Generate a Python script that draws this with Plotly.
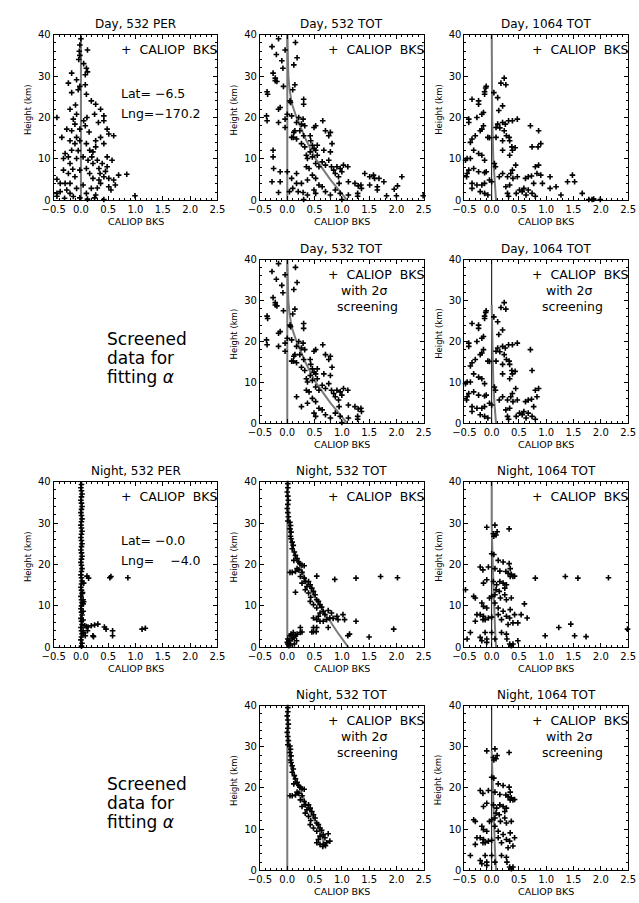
import plotly.graph_objects as go

W, H = 639, 903
FONT = "DejaVu Sans"
GRAY = "#7a7a7a"

# ---------------- data ----------------
# (CALIOP BKS, height km) pairs per panel
day532_per = [(0.0,39),(-0.02,37.5),(-0.03,36),(-0.02,35),(-0.04,34),(0.12,36.3),(0.1,31.9),(0.12,31),(0.08,30.3),
 (-0.17,30.7),(-0.23,28.3),(-0.08,29.1),(-0.17,26),(-0.02,27.5),(-0.05,26.7),(0.08,27.9),(0.1,25.6),(0.19,24),
 (0.27,23.2),(-0.44,20),(-0.35,15.2),(-0.2,22),(-0.14,19.6),(-0.08,20.8),(0.05,19.2),(0.11,20),(0.08,18),(0.25,20.8),
 (0.36,22),(0.42,20.4),(0.32,18.8),(0.42,19.2),(0.48,17.2),(0.51,16),(0.6,15.6),(-0.26,17.2),(-0.17,16.8),(-0.11,18.4),
 (-0.02,17.2),(-0.2,14.4),(-0.11,13.7),(-0.17,12.1),(-0.02,14.4),(-0.08,15.2),(0.1,13.7),(0.16,12.1),(0.22,11.7),
 (0.27,14.4),(0.36,15.2),(0.42,13.7),(0.27,12.9),(-0.29,11.3),(-0.23,10.5),(-0.32,10.1),(-0.2,8.9),(-0.08,10.1),
 (0.04,10.5),(0.13,9.7),(0.22,8.9),(0.3,9.7),(0.39,8.9),(0.48,8.1),(0.57,9.7),(0.33,7.7),(0.48,10.5),(-0.32,7.3),
 (-0.23,6.5),(-0.11,5.7),(-0.02,7.3),(0.1,7.7),(0.16,6.5),(0.22,5.3),(0.33,4.9),(0.42,5.7),(0.51,5.3),(0.6,4.9),
 (0.63,3.7),(0.51,3.3),(0.69,6.1),(0.84,6.3),(-0.44,5.1),(-0.38,4.1),(-0.38,2.1),(-0.44,1.7),(-0.26,2.5),(-0.2,1.7),
 (-0.14,0.95),(-0.08,2.9),(0.04,3.7),(0.1,1.7),(0.19,2.9),(0.27,1.3),(0.36,4.1),(0.42,0.2),(0.99,1.1),(0.25,0.6),
 (-0.02,0.6),(-0.44,1.0),(-0.29,4.1),(-0.2,4.1),(0.05,33),(-0.1,23),(0.15,16.5),(-0.05,12),(0.35,6.5),(0.2,10.5),
 (-0.15,7.5),(0.55,2.5),(0.3,3),(0.12,0.3),(-0.3,0.5),(0.45,7)]

day532_tot = [(-0.16,39),(-0.28,37.1),(-0.2,35.2),(-0.04,36.3),(-0.1,33.7),(-0.08,31.9),(0.15,38.1),(0.18,34.4),
 (0.12,32.7),(-0.26,30.7),(-0.22,29.5),(-0.19,28.7),(-0.22,28.9),(-0.07,27.5),(0.14,27.9),(0.1,26.7),(-0.37,26.2),
 (-0.36,25.6),(0.05,24),(0.06,23.6),(0.3,24.4),(0.3,23.2),(-0.38,20.4),(-0.37,19.2),(-0.16,22),(-0.13,22.4),
 (-0.16,18.8),(-0.04,19.6),(-0.04,17.6),(0.0,20.8),(0.08,20.4),(0.21,20),(0.29,19.6),(0.17,18.8),(0.26,18.4),
 (0.32,18),(0.14,16.8),(0.11,15.2),(0.08,15.2),(0.17,14.8),(0.12,16.4),(0.23,16.8),(0.3,15.6),(0.26,13.7),(0.32,12.9),
 (0.42,15.6),(0.49,17.6),(0.52,18),(0.65,19.2),(0.7,16.8),(0.79,16.4),(0.76,15.6),(0.82,13.7),(0.43,14.4),(0.46,13.3),
 (0.49,12.5),(0.55,13.3),(0.52,12.1),(0.42,11.7),(0.35,10.9),(0.37,10.1),(0.46,10.5),(0.55,10.9),(0.67,12.1),
 (0.79,11.7),(0.35,8.1),(0.4,7.7),(0.52,8.9),(0.58,8.1),(0.64,9.3),(0.7,8.5),(0.76,9.7),(0.81,8.1),(0.85,7.3),
 (0.91,8.1),(0.97,7.7),(1.03,8.5),(1.11,8.1),(0.88,6.5),(0.94,5.7),(1.0,6.9),(0.95,4.1),(1.12,4.5),(0.08,5.3),
 (0.17,6.5),(0.26,4.1),(0.37,4.9),(0.46,6.1),(0.52,5.3),(0.58,3.7),(0.64,3.3),(0.49,2.5),(0.52,1.7),(0.7,2.1),
 (0.79,1.3),(0.88,2.5),(0.97,1.7),(-0.28,4.5),(-0.25,7.7),(-0.26,10.5),(-0.26,12.1),(-0.13,4.5),(-0.13,6.9),
 (-0.16,1.9),(0.0,6.9),(0.04,2.1),(0.1,2.9),(0.17,4.1),(0.2,2.1),(0.29,1.9),(0.37,1.3),(1.24,4.1),(1.29,1.7),
 (1.3,3.5),(1.35,3.7),(1.36,2.9),(1.29,1.0),(1.42,6.5),(1.51,3.7),(1.51,5.7),(1.58,6.1),(1.6,5.3),(1.65,3.3),
 (1.68,5.3),(1.65,2.5),(1.77,4.5),(1.82,1.1),(1.96,2.7),(2.02,3.5),(2.0,1.1),(2.1,5.7),(2.49,1.1),(1.12,1.3),
 (1.0,0.2),(0.3,0.2)]

day532_tot_screened = [(-0.16,39),(-0.28,37.1),(-0.2,35.2),(-0.04,36.3),(-0.1,33.7),(-0.08,31.9),(0.15,38.1),(0.18,34.4),
 (0.12,32.7),(-0.26,30.7),(-0.22,29.5),(-0.19,28.7),(-0.22,28.9),(-0.07,27.5),(0.14,27.9),(0.1,26.7),(-0.37,26.2),
 (-0.36,25.6),(0.05,24),(0.06,23.6),(0.3,24.4),(0.3,23.2),(-0.38,20.4),(-0.37,19.2),(-0.16,22),(-0.13,22.4),
 (-0.16,18.8),(-0.04,19.6),(-0.04,17.6),(0.0,20.8),(0.08,20.4),(0.21,20),(0.29,19.6),(0.17,18.8),(0.26,18.4),
 (0.32,18),(0.14,16.8),(0.11,15.2),(0.08,15.2),(0.17,14.8),(0.12,16.4),(0.23,16.8),(0.3,15.6),(0.26,13.7),(0.32,12.9),
 (0.42,15.6),(0.49,17.6),(0.52,18),(0.65,19.2),(0.7,16.8),(0.79,16.4),(0.76,15.6),(0.82,13.7),(0.43,14.4),(0.46,13.3),
 (0.49,12.5),(0.55,13.3),(0.52,12.1),(0.42,11.7),(0.35,10.9),(0.37,10.1),(0.46,10.5),(0.55,10.9),(0.67,12.1),
 (0.79,11.7),(0.35,8.1),(0.4,7.7),(0.52,8.9),(0.58,8.1),(0.64,9.3),(0.7,8.5),(0.76,9.7),(0.81,8.1),(0.85,7.3),
 (0.91,8.1),(0.97,7.7),(1.03,8.5),(1.11,8.1),(0.88,6.5),(0.94,5.7),(1.0,6.9),(0.95,4.1),(1.12,4.5),
 (0.17,6.5),(0.26,4.1),(0.37,4.9),(0.46,6.1),(0.52,5.3),(0.58,3.7),(0.64,3.3),(0.49,2.5),(0.52,1.7),(0.7,2.1),
 (0.79,1.3),(0.88,2.5),(0.97,1.7),(1.24,4.1),(1.29,1.7),(1.3,3.5),(1.35,3.7),(1.36,2.9),(1.29,1.0),(1.12,1.3),(1.0,0.2)]

day1064_tot = [(-0.36,24.4),(-0.11,27.1),(-0.1,27.5),(-0.13,26.2),(-0.13,25.6),(-0.24,24),(-0.24,23.2),(-0.15,21.2),
 (-0.18,20.8),(-0.42,19.6),(-0.27,20),(-0.42,18.8),(-0.15,18),(-0.18,17.2),(-0.21,16.8),(-0.3,15.6),(-0.36,14.8),
 (-0.39,14),(-0.07,15.2),(-0.04,15.1),(-0.33,12.1),(-0.24,11.3),(-0.18,10.9),(-0.13,9.7),(-0.45,10.1),(-0.39,10.1),
 (-0.48,9.7),(-0.42,7.3),(-0.33,7.7),(-0.45,6.5),(-0.46,5.7),(-0.24,6.9),(-0.13,6.7),(-0.1,6.9),(-0.36,4.1),
 (-0.36,2.9),(-0.27,3.7),(-0.18,3.7),(-0.13,4.1),(-0.21,2.1),(-0.13,1.7),(-0.07,1.3),(-0.04,4.9),(0.0,4.5),
 (0.05,8.9),(0.07,8.1),(0.04,26),(0.11,24.8),(0.17,28.3),(0.23,29.5),(0.26,27.9),(0.2,22.8),(0.13,21.7),(0.2,18.8),
 (0.11,18.4),(0.08,17.6),(0.15,17.5),(0.25,18.4),(0.31,19.2),(0.38,19.2),(0.47,19.6),(0.23,16.8),(0.27,15.6),
 (0.32,15.2),(0.33,14.4),(0.2,14.4),(0.08,15.2),(0.2,12.1),(0.37,12.9),(0.38,12.1),(0.43,12.7),(0.33,10.9),
 (0.14,5.7),(0.2,6.5),(0.29,5.7),(0.38,7.3),(0.35,6.5),(0.44,8.5),(0.26,3.3),(0.33,3.7),(0.39,5.3),(0.47,5.7),
 (0.29,1.7),(0.31,1.0),(0.45,1.7),(0.51,2.5),(0.56,2.1),(0.62,5.3),(0.67,5.7),(0.59,2.9),(0.63,1.3),(0.67,2.5),
 (0.73,5.9),(0.77,4.1),(0.74,1.7),(0.8,1.0),(0.71,18),(0.74,12.9),(0.8,8.1),(0.83,6.5),(0.86,8.5),(0.85,12.9),
 (0.86,16.8),(0.9,13.7),(0.9,6.1),(0.93,4.1),(1.07,5.7),(1.07,2.9),(1.18,3.3),(1.27,1.3),(1.39,4.5),(1.48,6.1),
 (1.52,4.5),(1.66,1.7),(1.78,0.2),(1.84,0.2),(1.87,0.3),(1.99,0.2)]

day1064_tot_screened = [(-0.36,24.4),(-0.11,27.1),(-0.1,27.5),(-0.13,26.2),(-0.13,25.6),(-0.24,24),(-0.24,23.2),(-0.15,21.2),
 (-0.18,20.8),(-0.42,19.6),(-0.27,20),(-0.42,18.8),(-0.15,18),(-0.18,17.2),(-0.21,16.8),(-0.3,15.6),(-0.36,14.8),
 (-0.39,14),(-0.07,15.2),(-0.04,15.1),(-0.33,12.1),(-0.24,11.3),(-0.18,10.9),(-0.13,9.7),(-0.45,10.1),(-0.39,10.1),
 (-0.48,9.7),(-0.42,7.3),(-0.33,7.7),(-0.45,6.5),(-0.46,5.7),(-0.24,6.9),(-0.13,6.7),(-0.1,6.9),(-0.36,4.1),
 (-0.36,2.9),(-0.27,3.7),(-0.18,3.7),(-0.13,4.1),(-0.21,2.1),(-0.13,1.7),(-0.07,1.3),(-0.04,4.9),(0.0,4.5),
 (0.05,8.9),(0.07,8.1),(0.04,26),(0.11,24.8),(0.17,28.3),(0.23,29.5),(0.26,27.9),(0.2,22.8),(0.13,21.7),(0.2,18.8),
 (0.11,18.4),(0.08,17.6),(0.15,17.5),(0.25,18.4),(0.31,19.2),(0.38,19.2),(0.47,19.6),(0.23,16.8),(0.27,15.6),
 (0.32,15.2),(0.33,14.4),(0.2,14.4),(0.08,15.2),(0.2,12.1),(0.37,12.9),(0.38,12.1),(0.43,12.7),(0.33,10.9),
 (0.14,5.7),(0.2,6.5),(0.29,5.7),(0.38,7.3),(0.35,6.5),(0.44,8.5),(0.26,3.3),(0.33,3.7),(0.39,5.3),(0.47,5.7),
 (0.29,1.7),(0.31,1.0),(0.45,1.7),(0.51,2.5),(0.56,2.1),(0.62,5.3),(0.67,5.7),(0.59,2.9),(0.63,1.3),(0.67,2.5),
 (0.73,5.9),(0.77,4.1),(0.74,1.7),(0.8,1.0),(0.71,18),(0.74,12.9),(0.8,8.1),(0.83,6.5),(0.86,8.5)]

night532_per = [(0.01,0.3),(0.02,1.0),(0.0,1.8),(0.01,2.5),(0.02,3.3),(0.01,4.0),(0.0,4.8),(0.02,5.5),(0.01,6.3),
 (0.0,7.0),(0.02,7.8),(0.01,8.5),(0.0,9.3),(0.01,10.0),(0.02,10.8),(0.01,11.5),(0.0,12.3),(0.02,13.0),(0.01,13.8),
 (0.0,14.5),(0.01,15.3),(0.02,16.0),(0.01,16.8),(0.0,17.5),(0.01,18.3),(0.02,19.0),(0.01,19.8),(0.0,20.5),(0.01,21.3),
 (0.02,22.0),(0.01,22.8),(0.0,23.5),(0.01,24.3),(0.02,25.0),(0.01,25.8),(0.0,26.5),(0.01,27.3),(0.02,28.0),(0.01,28.8),
 (0.0,29.5),(0.01,30.3),(0.02,31.0),(0.01,31.8),(0.0,32.5),(0.01,33.3),(0.02,34.0),(0.01,34.8),(0.0,35.5),(0.01,36.3),
 (0.02,37.0),(0.01,37.8),(0.0,38.5),(0.01,39.3),
 (0.05,15.5),(0.04,11.5),(0.05,11.0),(0.04,10.5),(0.04,6.6),(0.04,8.7),(0.03,13.2),(0.11,17.2),(0.14,16.7),
 (0.53,16.8),(0.55,17.1),(0.86,16.8),(0.07,5.2),(0.13,4.9),(0.19,5.2),(0.25,5.4),(0.31,5.6),(0.43,4.9),(0.46,4.4),
 (0.58,4.0),(0.58,2.8),(0.22,2.8),(0.23,2.6),(0.08,2.8),(0.12,4.0),(0.04,4.0),(1.12,4.4),(1.18,4.6),(0.1,5.0),(0.05,3.5)]

night532_tot = [(0.01,30.5),(0.02,31.5),(0.01,32.5),(0.0,33.5),(0.01,34.5),(0.02,35.5),(0.01,36.5),(0.0,37.5),
 (0.01,38.5),(0.01,39.5),
 (0.05,30.2),(0.06,29.4),(0.05,28.6),(0.07,27.8),(0.06,26.8),(0.07,26.2),(0.09,25.4),(0.11,24.6),(0.09,23.8),
 (0.13,23),(0.15,22.2),(0.18,21.4),(0.12,21),(0.21,20.6),(0.23,20.2),(0.27,19.8),(0.31,19.7),(0.05,18.1),(0.09,18.1),
 (0.15,18.3),(0.21,18.7),(0.27,18.1),(0.18,19),(0.24,17.1),(0.31,16.7),(0.33,15.9),(0.27,15.5),(0.39,15.9),
 (0.42,15.1),(0.36,14.7),(0.45,14.3),(0.33,13.9),(0.48,13.5),(0.39,13.1),(0.15,13.3),(0.51,12.7),(0.43,12.1),
 (0.54,11.5),(0.42,11.1),(0.57,11.1),(0.6,10.3),(0.48,10.3),(0.63,9.7),(0.54,9.5),(0.66,8.7),(0.75,8.9),(0.81,8.3),
 (0.6,8.3),(0.69,7.9),(0.57,7.5),(0.48,7.1),(0.54,6.7),(0.6,6.3),(0.66,6.3),(0.72,6.7),(0.78,7.1),(0.84,7.0),
 (0.93,6.7),(1.02,7.9),(1.05,6.7),(0.91,7.5),(0.75,4.8),(0.54,4.8),(0.48,4.8),(0.24,4.8),(1.14,3.2),(1.26,6.3),
 (1.11,2.8),(1.5,2.5),(1.95,4.4),(0.87,16.4),(1.26,16.7),(1.71,17.1),(2.02,16.8),(0.54,17.2),
 (0.01,2.0),(0.03,1.6),(0.0,1.2),(0.01,0.8),(0.06,0.8),(0.09,2.0),(0.12,2.4),(0.15,2.8),(0.18,3.2),(0.24,3.6),
 (0.27,3.7),(0.03,0.4),(0.05,2.8),(0.07,3.2),(0.11,3.6),(0.45,3.7),(0.48,3.8),(0.53,3.8),(0.13,0.8),(0.17,1.6)]

night532_tot_screened = [(0.01,30.5),(0.02,31.5),(0.01,32.5),(0.0,33.5),(0.01,34.5),(0.02,35.5),(0.01,36.5),(0.0,37.5),
 (0.01,38.5),(0.01,39.5),
 (0.05,30.2),(0.06,29.4),(0.05,28.6),(0.07,27.8),(0.06,26.8),(0.07,26.2),(0.09,25.4),(0.11,24.6),(0.09,23.8),
 (0.13,23),(0.15,22.2),(0.18,21.4),(0.12,21),(0.21,20.6),(0.23,20.2),(0.27,19.8),(0.31,19.7),(0.05,18.1),(0.09,18.1),
 (0.15,18.3),(0.21,18.7),(0.27,18.1),(0.18,19),(0.24,17.1),(0.31,16.7),(0.33,15.9),(0.27,15.5),(0.39,15.9),
 (0.42,15.1),(0.36,14.7),(0.45,14.3),(0.33,13.9),(0.48,13.5),(0.39,13.1),(0.51,12.7),(0.43,12.1),
 (0.54,11.5),(0.42,11.1),(0.57,11.1),(0.6,10.3),(0.48,10.3),(0.63,9.7),(0.54,9.5),(0.66,8.7),(0.75,8.9),
 (0.6,8.3),(0.69,7.9),(0.57,7.5),(0.54,6.7),(0.6,6.3),(0.66,6.3),(0.72,6.7),(0.78,7.1),(0.7,6.0),(0.65,5.8)]

night1064_tot = [(-0.09,29),(0.06,29.5),(0.03,27.4),(0.04,26.8),(0.08,27.1),(0.1,27.9),(0.32,28.6),(0.0,22.6),
 (0.04,22.4),(0.12,21),(0.21,20.6),(0.32,20.2),(-0.21,19.4),(-0.16,18.7),(-0.06,19.4),(0.06,19),(0.15,18.4),
 (0.26,18.3),(0.34,19),(0.3,17.9),(0.36,17.6),(0.34,17.1),(0.39,17.1),(0.42,17.2),(-0.09,16.3),(-0.15,15.5),
 (0.03,15.9),(0.09,15.1),(0.15,15.9),(0.21,15.5),(0.24,14.3),(0.27,15.1),(0.08,13.9),(0.14,13.5),(0.06,12.7),
 (0.0,12.3),(-0.04,11.9),(0.16,11.9),(0.24,12.7),(0.27,11.5),(0.36,11.9),(-0.33,12.3),(-0.3,11.9),(-0.48,13.9),
 (-0.18,10.7),(-0.15,9.9),(-0.09,9.5),(0.06,10.7),(0.12,9.5),(0.21,8.7),(0.34,9.1),(0.6,10.5),(-0.27,7.9),
 (-0.21,7.9),(-0.15,7.5),(-0.06,7.1),(0.0,7.3),(-0.12,6.7),(-0.16,6.7),(-0.3,6.3),(0.12,7.9),(0.18,6.7),(0.27,7.5),
 (0.33,7.1),(0.42,7.9),(0.54,7.9),(0.39,5.9),(0.3,5.5),(0.48,5.9),(0.65,7.1),(-0.12,3.6),(0.0,3.6),(-0.39,3.6),
 (-0.45,2.0),(-0.21,2.4),(-0.18,1.6),(-0.09,2.0),(-0.09,1.2),(0.06,2.0),(0.27,3.2),(0.28,2.0),(0.33,0.8),(0.36,0.4),
 (0.39,0.8),(0.48,1.6),(0.18,3.6),(0.8,16.7),(1.35,17.1),(1.58,16.7),(2.14,16.8),(0.98,2.8),(1.23,4.8),(1.45,5.6),
 (1.52,2.8),(1.73,2.6),(2.49,4.4)]

night1064_tot_screened = [(-0.09,29),(0.06,29.5),(0.03,27.4),(0.04,26.8),(0.08,27.1),(0.1,27.9),(0.32,28.6),(0.0,22.6),
 (0.04,22.4),(0.12,21),(0.21,20.6),(0.32,20.2),(-0.21,19.4),(-0.16,18.7),(-0.06,19.4),(0.06,19),(0.15,18.4),
 (0.26,18.3),(0.34,19),(0.3,17.9),(0.36,17.6),(0.34,17.1),(0.39,17.1),(0.42,17.2),(-0.09,16.3),(-0.15,15.5),
 (0.03,15.9),(0.09,15.1),(0.15,15.9),(0.21,15.5),(0.24,14.3),(0.27,15.1),(0.08,13.9),(0.14,13.5),(0.06,12.7),
 (0.0,12.3),(-0.04,11.9),(0.16,11.9),(0.24,12.7),(0.27,11.5),(0.36,11.9),(-0.33,12.3),(-0.3,11.9),
 (-0.18,10.7),(-0.15,9.9),(-0.09,9.5),(0.06,10.7),(0.12,9.5),(0.21,8.7),(0.34,9.1),(-0.27,7.9),
 (-0.21,7.9),(-0.15,7.5),(-0.06,7.1),(0.0,7.3),(-0.12,6.7),(-0.16,6.7),(-0.3,6.3),(0.12,7.9),(0.18,6.7),(0.27,7.5),
 (0.33,7.1),(0.42,7.9),(0.39,5.9),(0.3,5.5),(-0.12,3.6),(0.0,3.6),(-0.39,3.6),
 (-0.21,2.4),(-0.18,1.6),(-0.09,2.0),(-0.09,1.2),(0.06,2.0),(0.27,3.2),(0.28,2.0),(0.33,0.8),(0.36,0.4),
 (0.39,0.8),(0.18,3.6)]

# fitted backscatter profiles (x, height)
fit_day532_x = [0.0, 0.01, 0.02, 0.04, 0.08, 0.17, 0.33, 0.52, 0.79, 1.1]
fit_day532_h = [40, 35, 30, 27, 23.5, 20, 15, 10, 5, 0]
fit_day1064_x = [0.0, 0.0, 0.01, 0.03, 0.05, 0.08]
fit_day1064_h = [40, 30, 20, 10, 5, 0]
fit_day1064s_x = [0.0, 0.01, 0.03, 0.05, 0.08]
fit_day1064s_h = [29, 20, 10, 5, 0]
fit_night532_x = [0.0, 0.01, 0.03, 0.07, 0.14, 0.22, 0.35, 0.55, 0.72, 0.9, 1.12]
fit_night532_h = [40, 35, 30, 25, 22, 20, 16, 11, 7.5, 4, 0]
fit_night532s_x = [0.0, 0.01, 0.03, 0.07, 0.14, 0.22, 0.35, 0.55, 0.68]
fit_night532s_h = [40, 35, 30, 25, 22, 20, 16, 11, 6.5]
fit_night1064_x = [0.0, 0.0, 0.02, 0.04, 0.06, 0.08]
fit_night1064_h = [40, 30, 20, 10, 5, 0]
fit_night1064s_x = [0.0, 0.02, 0.04, 0.06, 0.08]
fit_night1064s_h = [29, 20, 10, 5, 0]

x_tickvals = [-0.5, 0.0, 0.5, 1.0, 1.5, 2.0, 2.5]
x_ticktext = ["\u22120.5", "0.0", "0.5", "1.0", "1.5", "2.0", "2.5"]
y_tickvals = [0, 10, 20, 30, 40]

# ---------------- layout geometry (pixels) ----------------
COLS = {1: (43, 212), 2: (256, 425), 3: (467, 636)}
ROWS = {1: (29, 197), 2: (257, 423), 3: (482, 650), 4: (709, 876)}

panels = [
    dict(row=1, col=1, title="Day, 532 PER", pts=day532_per, zero=GRAY, fit=None,
         latlng=("Lat=\u00a0\u22126.5", "Lng=\u2212170.2"), screened=False),
    dict(row=1, col=2, title="Day, 532 TOT", pts=day532_tot, zero=GRAY, fit=(fit_day532_x, fit_day532_h),
         latlng=None, screened=False),
    dict(row=1, col=3, title="Day, 1064 TOT", pts=day1064_tot, zero="black", fit=(fit_day1064_x, fit_day1064_h),
         latlng=None, screened=False),
    dict(row=2, col=2, title="Day, 532 TOT", pts=day532_tot_screened, zero=GRAY, fit=(fit_day532_x, fit_day532_h),
         latlng=None, screened=True),
    dict(row=2, col=3, title="Day, 1064 TOT", pts=day1064_tot_screened, zero="black",
         fit=(fit_day1064s_x, fit_day1064s_h), latlng=None, screened=True),
    dict(row=3, col=1, title="Night, 532 PER", pts=night532_per, zero=GRAY, fit=None,
         latlng=("Lat=\u00a0\u22120.0", "Lng=\u00a0\u00a0\u00a0\u00a0\u22124.0"), screened=False),
    dict(row=3, col=2, title="Night, 532 TOT", pts=night532_tot, zero=GRAY, fit=(fit_night532_x, fit_night532_h),
         latlng=None, screened=False),
    dict(row=3, col=3, title="Night, 1064 TOT", pts=night1064_tot, zero="black",
         fit=(fit_night1064_x, fit_night1064_h), latlng=None, screened=False),
    dict(row=4, col=2, title="Night, 532 TOT", pts=night532_tot_screened, zero=GRAY,
         fit=(fit_night532s_x, fit_night532s_h), latlng=None, screened=True),
    dict(row=4, col=3, title="Night, 1064 TOT", pts=night1064_tot_screened, zero="black",
         fit=(fit_night1064s_x, fit_night1064s_h), latlng=None, screened=True),
]

fig = go.Figure()
annotations = []
layout = dict(width=W, height=H, margin=dict(l=0, r=0, t=0, b=0), paper_bgcolor="white",
              plot_bgcolor="white", showlegend=False, font=dict(family=FONT, color="black"))


def px(xp):
    return xp / W


def py(yp):
    return 1 - yp / H


TXT = dict(family=FONT, size=12.5, color="black")
NB = "\u00a0"

for i, p in enumerate(panels, start=1):
    sfx = "" if i == 1 else str(i)
    xa, ya = "x" + sfx, "y" + sfx
    x0, x1 = COLS[p["col"]]
    y0, y1 = ROWS[p["row"]]
    common = dict(showline=True, linecolor="black", linewidth=1, mirror="ticks", ticks="inside",
                  ticklen=4, tickcolor="black", showgrid=False, zeroline=False,
                  tickfont=dict(family=FONT, size=10, color="black"))
    layout["xaxis" + sfx] = dict(common, domain=[px(x0), px(x1)], anchor=ya, range=[-0.5, 2.5],
                                 tickvals=x_tickvals, ticktext=x_ticktext,
                                 minor=dict(ticks="inside", ticklen=2, tickcolor="black", tick0=-0.5, dtick=0.1))
    layout["yaxis" + sfx] = dict(common, domain=[py(y1), py(y0)], anchor=xa, range=[0, 40],
                                 tickvals=y_tickvals,
                                 minor=dict(ticks="inside", ticklen=2, tickcolor="black", tick0=0, dtick=2))
    # zero line
    fig.add_trace(go.Scatter(x=[0, 0], y=[0, 40], mode="lines", xaxis=xa, yaxis=ya,
                             line=dict(color=p["zero"], width=2 if p["zero"] == GRAY else 1),
                             hoverinfo="skip"))
    if p["fit"] is not None:
        fig.add_trace(go.Scatter(x=p["fit"][0], y=p["fit"][1], mode="lines", xaxis=xa, yaxis=ya,
                                 line=dict(color=GRAY, width=2), hoverinfo="skip"))
    xs = [q[0] for q in p["pts"]]
    hs = [q[1] for q in p["pts"]]
    fig.add_trace(go.Scatter(x=xs, y=hs, mode="markers", xaxis=xa, yaxis=ya, cliponaxis=False,
                             marker=dict(symbol="cross-thin", size=4, color="black",
                                         line=dict(color="black", width=1.6))))
    # title
    annotations.append(dict(text=p["title"], xref="paper", yref="paper", x=px((x0 + x1) / 2), y=py(y0 - 3),
                            xanchor="center", yanchor="bottom", showarrow=False, borderpad=0,
                            font=dict(family=FONT, size=12, color="black")))
    # axis titles
    annotations.append(dict(text="CALIOP BKS", xref="paper", yref="paper", x=px((x0 + x1) / 2), y=py(y1 + 21),
                            xanchor="center", yanchor="middle", showarrow=False, borderpad=0,
                            font=dict(family=FONT, size=9.5, color="black")))
    annotations.append(dict(text="Height (km)", xref="paper", yref="paper", x=px(x0 - 27),
                            y=py((y0 + y1) / 2 - 8), xanchor="center", yanchor="middle", showarrow=False,
                            borderpad=0, textangle=-90, font=dict(family=FONT, size=8.5, color="black")))
    # legend text (anchored at the right frame of the panel)
    annotations.append(dict(text="+" + NB * 2 + "CALIOP" + NB * 2 + "BKS", xref="paper", yref=ya,
                            x=px(x1 + 1), y=36.3, xanchor="right", yanchor="middle", showarrow=False,
                            borderpad=0, font=TXT))
    if p["screened"]:
        annotations.append(dict(text=NB + "with 2\u03c3<br>screening", xref=xa, yref=ya, x=0.9, y=30.6,
                                xanchor="left", yanchor="middle", align="left", showarrow=False,
                                borderpad=0, font=TXT))
    if p["latlng"] is not None:
        annotations.append(dict(text=p["latlng"][0], xref=xa, yref=ya, x=0.72, y=25.8, xanchor="left",
                                yanchor="middle", showarrow=False, borderpad=0, font=TXT))
        annotations.append(dict(text=p["latlng"][1], xref=xa, yref=ya, x=0.72, y=20.9, xanchor="left",
                                yanchor="middle", showarrow=False, borderpad=0, font=TXT))

# "Screened data for fitting alpha" side notes
for base in (337, 788):
    for k, line in enumerate(["Screened", "data for", "fitting <i>\u03b1</i>"]):
        annotations.append(dict(text=line, xref="paper", yref="paper", x=px(97), y=py(base + 19.5 * k),
                                xanchor="left", yanchor="middle", showarrow=False, borderpad=0,
                                font=dict(family=FONT, size=17, color="black")))

layout["annotations"] = annotations
fig.update_layout(**layout)
fig.write_html("out.html")
